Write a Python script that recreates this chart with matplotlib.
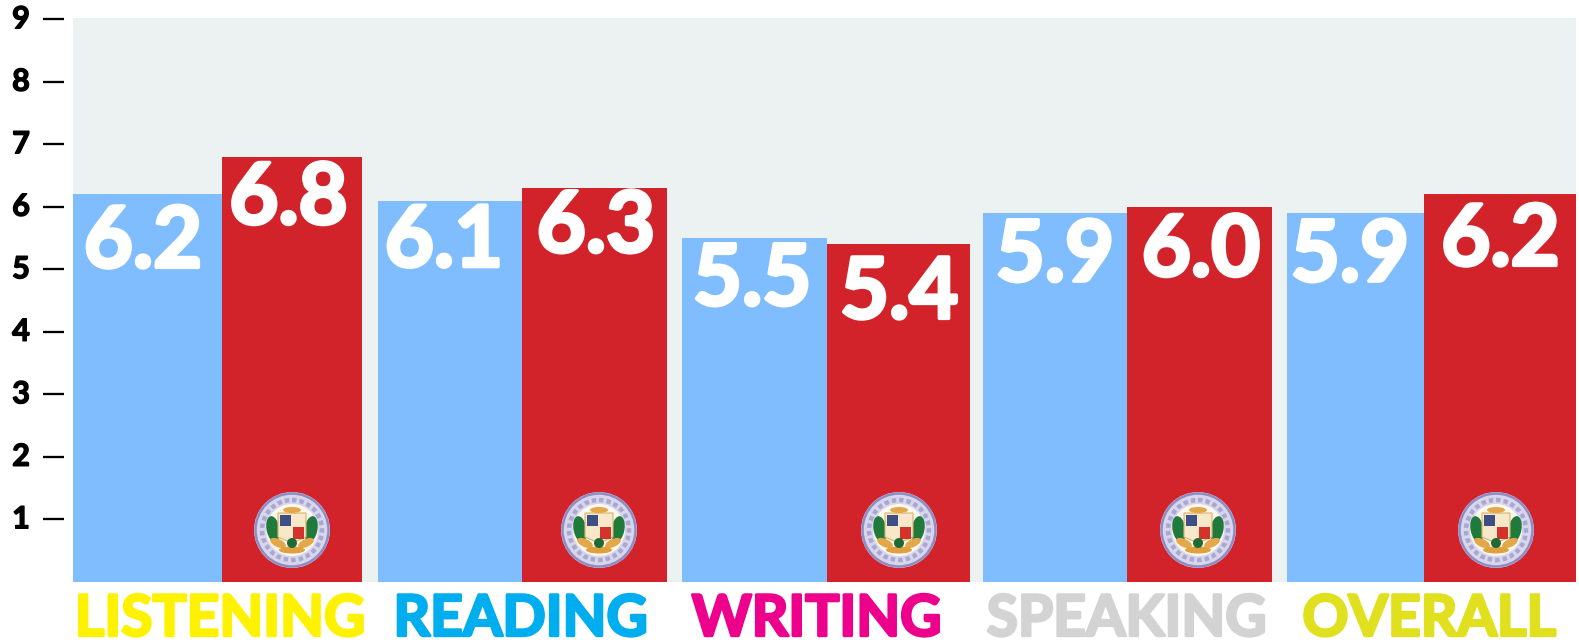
import matplotlib
matplotlib.use("Agg")
import matplotlib.pyplot as plt
import matplotlib.patheffects as pe
from matplotlib.patches import Circle, Rectangle, Ellipse, Polygon
from matplotlib.transforms import Affine2D

categories = ["LISTENING", "READING", "WRITING", "SPEAKING", "OVERALL"]
series_blue = [6.2, 6.1, 5.5, 5.9, 5.9]
series_red = [6.8, 6.3, 5.4, 6.0, 6.2]
y_ticks = [1, 2, 3, 4, 5, 6, 7, 8, 9]

# layout (pixels)
W, H = 1579, 643
group_left = [73, 378, 682, 983, 1287]
blue_w = [149, 144, 144.5, 144, 137]
red_w = [140, 145, 143.5, 145, 152]
cat_x = [220.5, 521, 817, 1127, 1429.5]
cat_colors = ["#FFF200", "#00AEEF", "#EC008C", "#D3D3D3", "#E0E01E"]
cat_size = [41, 41, 41, 41, 41]
blue_lab_dx = [-4.5, -6, -2, -0, -5.5]
red_lab_dx = [-3.5, 1.5, 1, 1.5, 0.5]
blue_lab_dy = [73, 66, 67, 68, 68]
red_lab_dy = [67, 64, 74, 69, 71]
logo_x = [292, 599, 899, 1198, 1496]
FONT = "Lato"

fig = plt.figure(figsize=(W / 100, H / 100), dpi=100, facecolor="white")
y0 = 581.8
ax = fig.add_axes([73 / W, (H - y0) / H, 1503 / W, (y0 - 18) / H], facecolor="#ECF2F2")
ax.set_xlim(73, 1576)
ax.set_ylim(0, (y0 - 18) / 62.5)
for s in ax.spines.values():
    s.set_visible(False)
ax.spines["left"].set_position(("outward", 9 * 0.72))

blue_x = group_left
red_x = [l + b for l, b in zip(group_left, blue_w)]
ax.bar(blue_x, series_blue, width=blue_w, align="edge", color="#80BDFF", linewidth=0)
ax.bar(red_x, series_red, width=red_w, align="edge", color="#D2232A", linewidth=0)


def thick(color, w):
    return [pe.withStroke(linewidth=w, foreground=color)]


def label(x, v, dy):
    ax.annotate(f"{v:.1f}", (x, v), xytext=(0, -dy * 0.72), textcoords="offset points",
                ha="center", va="baseline", color="white", fontsize=61,
                family=FONT, fontweight="bold", path_effects=thick("white", 2.6))


for i in range(5):
    label(blue_x[i] + blue_w[i] / 2 + blue_lab_dx[i], series_blue[i], blue_lab_dy[i])
    label(red_x[i] + red_w[i] / 2 + red_lab_dx[i], series_red[i], red_lab_dy[i])

ax.set_yticks(y_ticks)
ax.set_yticklabels([str(t) for t in y_ticks], family=FONT, fontweight="bold",
                   fontsize=22, ha="center", va="center", color="black")
for t in ax.get_yticklabels():
    t.set_path_effects(thick("black", 1.0))
ax.tick_params(axis="y", length=21 * 0.72, width=2.3 * 0.72, color="black", pad=22 * 0.72)
ax.set_xticks(cat_x)
ax.set_xticklabels(categories, family=FONT, fontweight="bold", va="baseline", ha="center")
for t, c, s in zip(ax.get_xticklabels(), cat_colors, cat_size):
    t.set_color(c)
    t.set_fontsize(s)
    t.set_path_effects(thick(c, 2.0))
ax.tick_params(axis="x", length=0, pad=54 * 0.72)

# emblem, drawn in pixel coordinates
px = Affine2D().scale(1, -1).translate(0, H)


def emblem(cx, cy):
    def add(p):
        p.set_transform(px)
        p.set_clip_on(False)
        p.set_zorder(5)
        fig.add_artist(p)

    add(Circle((cx, cy), 38, fc="#D8D6EA", ec="none"))
    add(Circle((cx, cy), 36.5, fc="none", ec="#8E8CC4", lw=1.8))
    add(Circle((cx, cy), 30, fc="none", ec="#A9A7D3", lw=3.2, ls=(0, (1.0, 0.7))))
    add(Circle((cx, cy), 26, fc="#FDF8EE", ec="none"))
    for sx in (-1, 1):
        add(Ellipse((cx + sx * 19, cy - 1), 13, 26, angle=sx * 10, fc="#1F7A3C", ec="none"))
        add(Ellipse((cx + sx * 14, cy + 13), 17, 8, angle=sx * -25, fc="#E2A84A", ec="none"))
    add(Polygon([(cx - 14, cy - 17), (cx + 14, cy - 17), (cx + 14, cy + 7), (cx, cy + 13),
                 (cx - 14, cy + 7)], fc="#F6E8C8", ec="#D9B26A", lw=0.8))
    add(Rectangle((cx - 12, cy - 15), 11, 11, fc="#3E4F86", ec="none"))
    add(Rectangle((cx + 1, cy - 3), 11, 12, fc="#D2332A", ec="none"))
    add(Ellipse((cx, cy - 20), 18, 6, fc="#E2A84A", ec="none"))
    add(Ellipse((cx, cy + 20), 26, 7, fc="#E0A040", ec="none"))
    add(Circle((cx, cy + 13), 5, fc="#1F6B34", ec="none"))


for x in logo_x:
    emblem(x, 530)

fig.savefig("out.png", dpi=100, facecolor="white")
